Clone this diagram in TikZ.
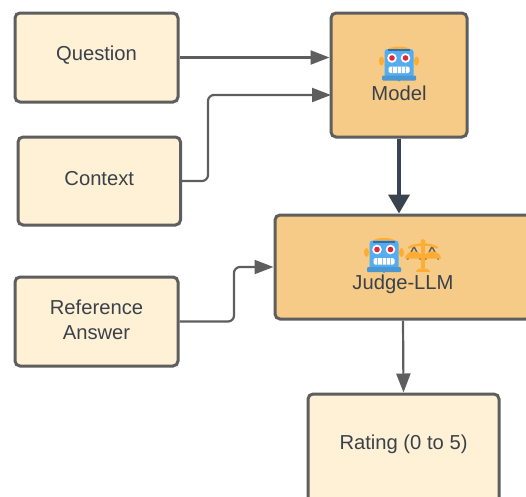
\documentclass[tikz,border=0pt]{standalone}
\usepackage{fontspec}
\setmainfont{Liberation Sans}
\usetikzlibrary{arrows.meta,calc}
\definecolor{cream}{HTML}{FFF1D6}
\definecolor{peach}{HTML}{F5CB87}
\definecolor{edgegray}{HTML}{5E5E5E}
\definecolor{txt}{HTML}{3A414A}
\definecolor{darkarrow}{HTML}{3A4450}
\definecolor{botblue}{HTML}{55ACEE}
\definecolor{botdark}{HTML}{2A6FB0}
\definecolor{botorange}{HTML}{FFAC33}
\definecolor{botred}{HTML}{E0263C}
\tikzset{
  labeltext/.style={text=txt,font=\fontsize{20.2}{24.5}\selectfont,align=center,inner sep=0pt},
  box/.style={draw=edgegray,line width=3pt,rounded corners=5pt,inner sep=0pt},
  light/.style={box,fill=cream},
  strong/.style={box,fill=peach},
  conn/.style={draw=edgegray,line width=2.2pt,rounded corners=6pt,-{Triangle[length=19pt,width=14pt]}},
  bigconn/.style={draw=darkarrow,line width=4pt,-{Triangle[length=19pt,width=21pt]}},
  pics/robot/.style={code={
    \fill[botorange] (-17.5,-3) ellipse (2.5 and 4.5) (17.5,-3) ellipse (2.5 and 4.5);
    \fill[botorange] (0,-14) ellipse (11 and 3.5);
    \fill[botblue,rounded corners=3pt] (-14.5,-15) rectangle (14.5,14);
    \fill[botdark] (-11,-15) rectangle (11,-13);
    \fill[botblue!88!black,rounded corners=1pt] (-17,11.5) rectangle (17,16.5);
    \fill[botblue!88!black] (-4,14) -- (4,14) -- (0,17.5) -- cycle;
    \fill[white] (-7,-6) circle (4.8) (6.5,-6) circle (4.8);
    \fill[botred] (-7,-6) circle (2.8) (6.5,-6) circle (2.8);
    \fill[white,rounded corners=1.5pt] (-10.5,2.5) rectangle (10.5,9);
    \draw[botblue!70,line width=.6pt] (-6.3,2.5) -- (-6.3,9) (-2.1,2.5) -- (-2.1,9) (2.1,2.5) -- (2.1,9) (6.3,2.5) -- (6.3,9);
  }},
  pics/scales/.style={code={
    \draw[edgegray,line width=1.4pt,line join=round] (-15.5,4) -- (-9,-9) -- (-2.5,4) (15.5,4) -- (9,-9) -- (2.5,4);
    \fill[botorange] (-1.6,-16) rectangle (1.6,12);
    \fill[botorange] (0,-14) circle (2.4);
    \draw[botorange,line width=2.4pt,line cap=round] (-14,-8) .. controls (-6,-12) and (6,-12) .. (14,-8);
    \fill[botorange] (-7,16.5) .. controls (-7,11) and (7,11) .. (7,16.5) -- cycle;
    \fill[botorange] (-18,3) arc (180:360:8.8 and 7) -- cycle;
    \fill[botorange] (0.4,3) arc (180:360:8.8 and 7) -- cycle;
  }}
}
\begin{document}
\begin{tikzpicture}[x=1pt,y=-1pt]
\useasboundingbox (0,0) rectangle (526,496);
\clip (0,0) rectangle (526,496);
\node[light,minimum width=163pt,minimum height=89pt] (q) at (96.5,57.5) {};
\node[light,minimum width=162.5pt,minimum height=88pt] (c) at (99.25,181) {};
\node[light,minimum width=163pt,minimum height=89pt] (r) at (96.5,321.5) {};
\node[strong,minimum width=136pt,minimum height=124pt] (m) at (399,75) {};
\node[strong,minimum width=256pt,minimum height=104pt] (j) at (403,267) {};
\node[light,minimum width=191pt,minimum height=110pt] (t) at (403.5,449) {};
\node[labeltext] (qlabel) at (96.5,55.5) {Question};
\node[labeltext] (clabel) at (99.25,178.5) {Context};
\node[labeltext] (rlabel) at (96.5,320) {Reference\\Answer};
\node[labeltext] (mlabel) at (399,93.5) {Model};
\node[labeltext] (jlabel) at (403,284.5) {Judge-LLM};
\node[labeltext] (tlabel) at (403.5,444.5) {Rating (0 to 5)};
\pic at (399,64) {robot};
\pic at (384,255.5) {robot};
\pic at (423,255.5) {scales};
\coordinate (mq) at (m.west |- q.east);
\coordinate (mc) at (331,95);
\draw[conn] (q.east) -- (mq);
\draw[conn] (c.east) -| (208,95) -- (mc);
\draw[conn] (r.east) -| (234,267) -- (j.west);
\draw[bigconn] (m.south) -- (j.north -| m.south);
\draw[conn] (j.south) -- (t.north);
\end{tikzpicture}
\end{document}
